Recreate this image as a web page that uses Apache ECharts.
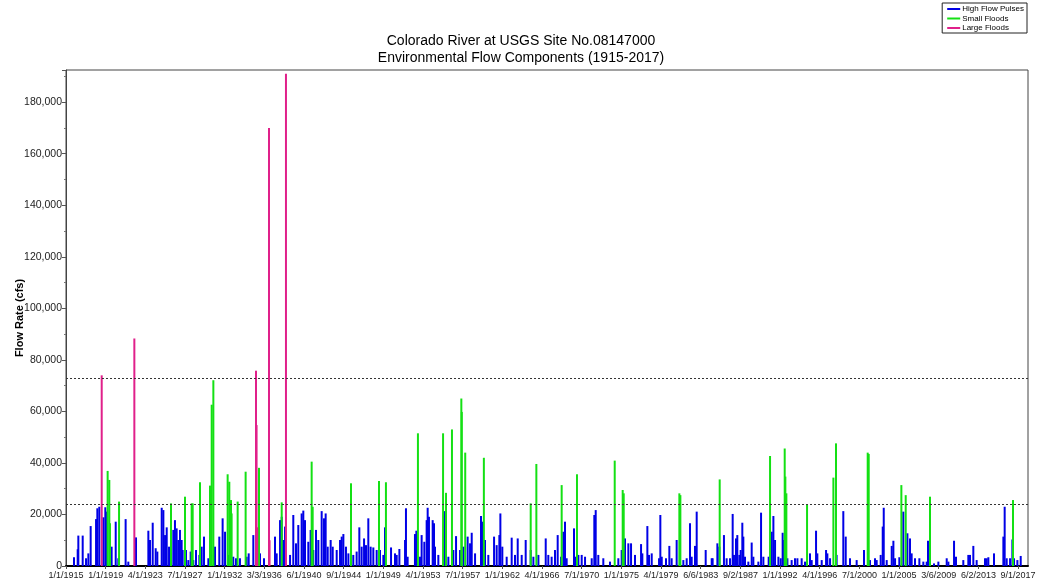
<!DOCTYPE html>
<html>
<head>
<meta charset="utf-8">
<script src="https://cdn.jsdelivr.net/npm/echarts@6/dist/echarts.min.js"></script>
<style>
  html, body { margin: 0; padding: 0; background: #ffffff; }
  #chart { width: 1042px; height: 583px; }
</style>
</head>
<body>
<div id="chart"></div>
<script>
// Tick labels along the date axis (evenly spaced)
const xTickLabels = [
  '1/1/1915', '1/1/1919', '4/1/1923', '7/1/1927', '1/1/1932', '3/3/1936',
  '6/1/1940', '9/1/1944', '1/1/1949', '4/1/1953', '7/1/1957', '1/1/1962',
  '4/1/1966', '7/1/1970', '1/1/1975', '4/1/1979', '6/6/1983', '9/2/1987',
  '1/1/1992', '4/1/1996', '7/1/2000', '1/1/2005', '3/6/2009', '6/2/2013',
  '9/1/2017'
];
const firstYear = 1915;
const lastLabelYear = 2017 + 8 / 12;

// Flow thresholds (cfs) drawn as dashed reference lines
const thresholds = [72900, 24000];

// High flow pulse peaks: [decimal year, flow cfs]
const highFlowPulses = [
  [1915.86, 3400], [1916.26, 6500], [1916.33, 11800], [1916.80, 11800], [1917.16, 3000],
  [1917.41, 4900], [1917.66, 15500], [1918.24, 18200], [1918.38, 22400], [1918.59, 23000],
  [1919.03, 18900], [1919.24, 22800], [1919.39, 21100], [1919.92, 7500], [1920.36, 17200],
  [1920.64, 3000], [1921.43, 18200], [1921.72, 1700], [1922.55, 11100], [1923.88, 13700],
  [1924.06, 10100], [1924.35, 16800], [1924.67, 6900], [1924.85, 5600], [1925.32, 22600],
  [1925.50, 21700], [1925.68, 12000], [1925.86, 15000], [1926.11, 7500], [1926.32, 15900],
  [1926.57, 14000], [1926.75, 17800], [1926.93, 14600], [1927.11, 10100], [1927.29, 14000],
  [1927.47, 10100], [1927.58, 6200], [1927.94, 6200], [1928.19, 2300], [1928.44, 5600],
  [1928.73, 2300], [1929.02, 6200], [1929.38, 4300], [1929.63, 7500], [1929.88, 11400],
  [1930.35, 3000], [1930.64, 4900], [1931.07, 7500], [1931.53, 11400], [1931.89, 18500],
  [1932.15, 13300], [1932.51, 4300], [1933.04, 3600], [1933.33, 3000], [1933.76, 3000],
  [1934.48, 3600], [1934.70, 4900], [1935.20, 12000], [1935.92, 4900], [1936.35, 3000],
  [1937.54, 11400], [1937.72, 4900], [1938.08, 17800], [1938.26, 19100], [1938.44, 10100],
  [1938.62, 15300], [1939.16, 4300], [1939.51, 19800], [1939.80, 8800], [1940.05, 15900],
  [1940.41, 20400], [1940.59, 21500], [1940.77, 17800], [1941.13, 9400], [1941.38, 14000],
  [1941.67, 6200], [1941.96, 14000], [1942.21, 10100], [1942.57, 21300], [1942.82, 18500],
  [1943.00, 20400], [1943.22, 7500], [1943.54, 10100], [1943.76, 7500], [1944.19, 6200],
  [1944.55, 10100], [1944.73, 11400], [1944.91, 12400], [1945.19, 7500], [1945.45, 4900],
  [1945.98, 4300], [1946.34, 5600], [1946.63, 15000], [1946.88, 7500], [1947.14, 10700],
  [1947.35, 8100], [1947.60, 18500], [1947.85, 7500], [1948.14, 7200], [1948.50, 6200],
  [1948.86, 6200], [1949.22, 4300], [1949.40, 15000], [1950.05, 7200], [1950.48, 4900],
  [1950.66, 4300], [1950.95, 6600], [1951.56, 10100], [1951.66, 22400], [1951.84, 3600],
  [1952.63, 12400], [1952.78, 13700], [1953.17, 3600], [1953.35, 12000], [1953.64, 9400],
  [1953.89, 17800], [1954.00, 22600], [1954.14, 19100], [1954.54, 17800], [1954.68, 16600],
  [1954.79, 7500], [1955.15, 4300], [1955.80, 21300], [1955.94, 10100], [1956.23, 3600],
  [1956.77, 6200], [1957.06, 11600], [1957.49, 6200], [1957.85, 7500], [1958.31, 11400],
  [1958.57, 8800], [1958.75, 12900], [1959.11, 4900], [1959.75, 19400], [1959.90, 17200],
  [1960.18, 10100], [1960.54, 4300], [1961.16, 11400], [1961.44, 8100], [1961.73, 12000],
  [1961.84, 20400], [1962.05, 7500], [1962.52, 3600], [1963.06, 11000], [1963.42, 4300],
  [1963.71, 10700], [1964.14, 4300], [1964.57, 10100], [1965.11, 6200], [1965.40, 3600],
  [1965.94, 4300], [1966.73, 10700], [1967.01, 4300], [1967.37, 3600], [1967.73, 6200],
  [1968.02, 12000], [1968.38, 3600], [1968.63, 13300], [1968.81, 17200], [1968.99, 3000],
  [1969.78, 14600], [1969.96, 3600], [1970.25, 4300], [1970.61, 4300], [1970.97, 3600],
  [1971.69, 3000], [1971.97, 19800], [1972.12, 21700], [1972.40, 4300], [1972.94, 3000],
  [1973.66, 1700], [1974.56, 3000], [1974.92, 6200], [1975.28, 10700], [1975.64, 8800],
  [1975.93, 8800], [1976.36, 4300], [1977.01, 8500], [1977.15, 4900], [1977.69, 15500],
  [1977.87, 4300], [1978.16, 4900], [1978.95, 3000], [1979.09, 19800], [1979.24, 3600],
  [1979.70, 3000], [1980.06, 7800], [1980.31, 3000], [1980.85, 10100], [1981.57, 2300],
  [1981.93, 3000], [1982.29, 16600], [1982.47, 3600], [1982.83, 7800], [1983.01, 21100],
  [1983.98, 6200], [1984.63, 3000], [1984.73, 3000], [1985.24, 8800], [1985.45, 7500],
  [1985.95, 12000], [1986.24, 3000], [1986.60, 3000], [1986.89, 20200], [1987.03, 4300],
  [1987.25, 10700], [1987.39, 12000], [1987.61, 4300], [1987.75, 6200], [1987.93, 16800],
  [1988.04, 11400], [1988.22, 3600], [1988.58, 1700], [1988.94, 9100], [1989.12, 3600],
  [1989.66, 1700], [1989.95, 20700], [1990.20, 3600], [1990.77, 3600], [1991.10, 13300],
  [1991.28, 19400], [1991.46, 10100], [1991.82, 3600], [1992.07, 3000], [1992.28, 12900],
  [1992.43, 10100], [1992.79, 3000], [1993.25, 2300], [1993.61, 3000], [1993.87, 3000],
  [1994.33, 3000], [1994.69, 1700], [1995.23, 4900], [1995.41, 2300], [1995.88, 13700],
  [1996.02, 4900], [1996.49, 2300], [1996.96, 6200], [1997.10, 4900], [1997.39, 3000],
  [1998.10, 4300], [1998.82, 21300], [1999.08, 11400], [1999.54, 3000], [2000.26, 2300],
  [2001.05, 6200], [2001.70, 2300], [2002.24, 3000], [2002.42, 2300], [2002.85, 4300],
  [2003.07, 15300], [2003.18, 22600], [2003.50, 2300], [2004.04, 7800], [2004.22, 9800],
  [2004.40, 3000], [2004.86, 3400], [2005.29, 21100], [2005.73, 12700], [2006.01, 10700],
  [2006.19, 4900], [2006.55, 3000], [2007.02, 3000], [2007.45, 1700], [2007.81, 1700],
  [2007.95, 9800], [2008.60, 1000], [2009.07, 1700], [2009.97, 3000], [2010.15, 1700],
  [2010.76, 9800], [2010.97, 3600], [2011.76, 2300], [2012.30, 4300], [2012.48, 4300],
  [2012.84, 7800], [2013.20, 2300], [2014.10, 3000], [2014.28, 3000], [2014.46, 3400],
  [2015.07, 4900], [2016.08, 11400], [2016.22, 23000], [2016.44, 3000], [2016.80, 3000],
  [2017.05, 10300], [2017.23, 3000], [2017.59, 2300], [2017.95, 3900]
];

// Small flood peaks: [decimal year, flow cfs]
const smallFloods = [
  [1919.49, 36900], [1919.67, 33400], [1919.74, 16600], [1920.72, 25000], [1926.32, 24300],
  [1927.83, 26900], [1928.55, 24300], [1928.66, 24300], [1929.45, 32500], [1930.53, 31200],
  [1930.71, 62600], [1930.89, 72100], [1932.43, 35600], [1932.61, 32700], [1932.79, 25600],
  [1932.86, 20400], [1933.51, 25000], [1934.37, 36600], [1935.81, 38100], [1938.26, 24700],
  [1941.49, 40500], [1941.60, 23000], [1945.73, 32100], [1948.75, 33000], [1949.50, 32500],
  [1952.95, 51500], [1955.66, 51500], [1955.98, 28400], [1956.62, 53000], [1957.63, 65000],
  [1957.68, 59800], [1958.05, 44000], [1960.06, 42000], [1965.11, 24300], [1965.72, 39600],
  [1968.45, 31400], [1970.10, 35600], [1974.17, 40900], [1975.03, 29500], [1975.14, 28200],
  [1981.14, 28200], [1981.25, 27500], [1985.49, 33600], [1990.92, 42700], [1992.50, 45600],
  [1992.57, 34700], [1992.68, 28200], [1994.91, 23900], [1997.75, 34300], [1998.03, 47600],
  [2001.45, 44000], [2001.56, 43500], [2005.08, 31400], [2005.55, 27500], [2008.17, 26900],
  [2017.12, 25600]
];

// Large flood peaks: [decimal year, flow cfs]
const largeFloods = [
  [1918.85, 74000], [1922.37, 88300], [1935.49, 75800], [1935.55, 54700], [1935.62, 15000],
  [1936.89, 170000], [1936.95, 10000], [1938.72, 191000]
];

const tickStep = (lastLabelYear - firstYear) / (xTickLabels.length - 1);
const toAxis = rows => rows.map(r => [r[0] - firstYear, r[1]]);

const chart = echarts.init(document.getElementById('chart'), null, { renderer: 'canvas' });

const barCommon = {
  type: 'bar',
  barWidth: 2,
  barGap: '-100%',
  animation: false,
  silent: true
};

chart.setOption({
  animation: false,
  backgroundColor: '#ffffff',
  title: {
    text: 'Colorado River at USGS Site No.08147000\nEnvironmental Flow Components (1915-2017)',
    left: 'center',
    top: 28,
    textStyle: {
      fontFamily: 'Liberation Sans, Arial, sans-serif',
      fontSize: 14,
      fontWeight: 'normal',
      color: '#000000',
      lineHeight: 17
    }
  },
  legend: {
    orient: 'vertical',
    right: 15,
    top: 3,
    padding: [2, 3, 1, 5],
    itemGap: 1.5,
    itemWidth: 13,
    itemHeight: 2,
    icon: 'rect',
    borderColor: '#222222',
    borderWidth: 1,
    backgroundColor: '#ffffff',
    textStyle: { fontFamily: 'Liberation Sans, Arial, sans-serif', fontSize: 8, color: '#000000', padding: [0, 0, 0, -3] },
    data: ['High Flow Pulses', 'Small Floods', 'Large Floods']
  },
  grid: {
    left: 66, right: 14, top: 70, bottom: 17,
    show: true, borderColor: '#444444', borderWidth: 1,
    containLabel: false,
    outerBoundsMode: 'none'
  },
  xAxis: {
    type: 'value',
    min: 0,
    max: tickStep * 24.25,
    interval: tickStep,
    splitLine: { show: false },
    axisLine: { show: true, onZero: false, lineStyle: { color: '#000000', width: 2 } },
    axisTick: { show: true, length: 3, lineStyle: { color: '#555555' } },
    axisLabel: {
      fontFamily: 'Liberation Sans, Arial, sans-serif',
      fontSize: 9,
      color: '#222222',
      margin: 5,
      showMaxLabel: false,
      formatter: v => {
        const i = Math.round(v / tickStep);
        return Math.abs(v - i * tickStep) < tickStep * 0.01 ? (xTickLabels[i] || '') : '';
      }
    }
  },
  yAxis: {
    type: 'value',
    min: 0,
    max: 192500,
    interval: 20000,
    name: 'Flow Rate (cfs)',
    nameLocation: 'middle',
    nameGap: 41,
    nameMoveOverlap: false,
    nameTextStyle: { fontFamily: 'Liberation Sans, Arial, sans-serif', fontSize: 11, fontWeight: 'bold', color: '#000000' },
    splitLine: { show: false },
    axisLine: { show: true, lineStyle: { color: '#444444', width: 1 } },
    axisTick: { show: true, length: 4, lineStyle: { color: '#555555' } },
    minorTick: { show: true, splitNumber: 2, length: 2, lineStyle: { color: '#777777' } },
    axisLabel: {
      fontFamily: 'Liberation Sans, Arial, sans-serif',
      fontSize: 10.5,
      color: '#222222',
      margin: 4,
      showMaxLabel: false,
      formatter: v => (v % 20000 === 0 ? v.toLocaleString('en-US') : '')
    }
  },
  series: [
    Object.assign({}, barCommon, {
      name: 'High Flow Pulses',
      itemStyle: { color: '#0000e6' },
      data: toAxis(highFlowPulses),
      markLine: {
        silent: true,
        symbol: 'none',
        label: { show: false },
        lineStyle: { color: '#333333', type: [2, 2], width: 1 },
        data: thresholds.map(t => ({ yAxis: t }))
      }
    }),
    Object.assign({}, barCommon, {
      name: 'Small Floods',
      itemStyle: { color: '#14e014' },
      data: toAxis(smallFloods)
    }),
    Object.assign({}, barCommon, {
      name: 'Large Floods',
      itemStyle: { color: '#e0208a' },
      data: toAxis(largeFloods)
    })
  ]
});
</script>
</body>
</html>
